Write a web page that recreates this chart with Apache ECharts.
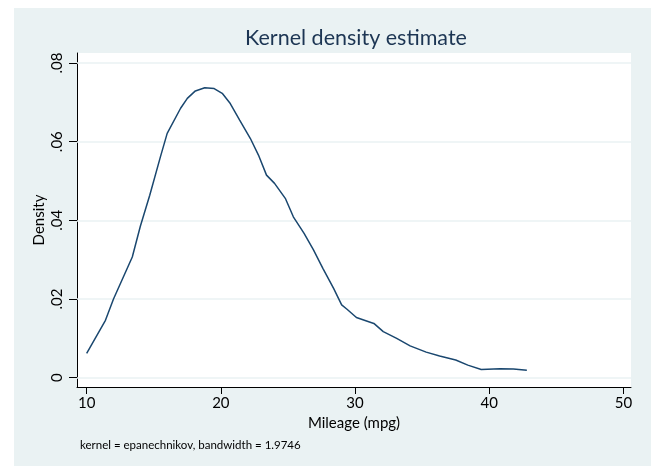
<!DOCTYPE html>
<html>
<head>
<meta charset="utf-8">
<title>Kernel density estimate</title>
<script src="https://cdn.jsdelivr.net/npm/echarts@6/dist/echarts.min.js"></script>
<style>
  html, body { margin: 0; padding: 0; background: #fff; }
  #chart { width: 651px; height: 466px; }
</style>
</head>
<body>
<div id="chart"></div>
<script>
// mileage (mpg) grid and density
const mileage = [10.0, 11.4, 12.0, 13.4, 14.0, 14.7, 15.5, 16.0, 17.0, 17.5, 18.1, 18.8, 19.5, 20.1, 20.7,
  21.4, 22.2, 22.8, 23.4, 24.0, 24.8, 25.4, 26.2, 26.9, 27.6, 28.4, 29.0, 29.4, 30.1, 30.8, 31.4,
  32.1, 33.1, 34.1, 35.3, 36.3, 37.5, 38.4, 39.4, 40.8, 41.8, 42.8];
const density = [0.0062, 0.0146, 0.0200, 0.0307, 0.0385, 0.0464, 0.0562, 0.0621, 0.0685, 0.0710, 0.0729,
  0.0737, 0.0735, 0.0723, 0.0697, 0.0655, 0.0608, 0.0566, 0.0515, 0.0494, 0.0456, 0.0409, 0.0367,
  0.0325, 0.0278, 0.0227, 0.0185, 0.0174, 0.0153, 0.0145, 0.0138, 0.0117, 0.0100, 0.0081, 0.0065,
  0.0055, 0.0045, 0.0032, 0.0021, 0.0023, 0.0022, 0.0019];
const xTicks = [10, 20, 30, 40, 50];
const yTicks = [0, 0.02, 0.04, 0.06, 0.08];

const FONT = 'Lato';
const NAVY = '#1a476f';
const BG = '#eaf2f3';

const chart = echarts.init(document.getElementById('chart'));

const fmtY = v => (v === 0 ? '0' : String(+v.toFixed(2)).replace(/^0\./, '.'));

chart.setOption({
  animation: false,
  backgroundColor: '#fff',
  textStyle: { fontFamily: FONT },
  graphic: [
    { type: 'rect', z: -10, shape: { x: 14, y: 8, width: 637, height: 458 }, style: { fill: BG } },
    {
      type: 'text', left: 80, top: 439, z: 10,
      style: { text: 'kernel = epanechnikov, bandwidth = 1.9746', fill: '#000', font: '11.5px ' + FONT }
    }
  ],
  title: {
    text: 'Kernel density estimate',
    left: 351, top: 22, textAlign: 'center',
    textStyle: { fontFamily: FONT, fontWeight: 'normal', fontSize: 21.5, color: '#1c3553' }
  },
  grid: {
    left: 77, right: 20, top: 53, bottom: 79,
    show: true, backgroundColor: '#fff', borderWidth: 0
  },
  xAxis: {
    type: 'value', min: 9.28, max: 50.56,
    name: 'Mileage (mpg)', nameLocation: 'middle', nameGap: 29,
    nameTextStyle: { fontSize: 15, color: '#000', fontFamily: FONT },
    axisLine: { show: true, onZero: false, lineStyle: { color: '#000', width: 1 } },
    axisTick: { show: true, customValues: xTicks, length: 7, lineStyle: { color: '#000' } },
    axisLabel: { customValues: xTicks, fontSize: 15, color: '#000', margin: 9, fontFamily: FONT },
    splitLine: { show: false }
  },
  yAxis: {
    type: 'value', min: -0.00236, max: 0.08254,
    name: 'Density', nameLocation: 'middle', nameGap: 30, nameRotate: 90, nameMoveOverlap: false,
    nameTextStyle: { fontSize: 15, color: '#000', fontFamily: FONT },
    axisLine: { show: true, onZero: false, lineStyle: { color: '#000', width: 1 } },
    axisTick: { show: true, customValues: yTicks, length: 8, lineStyle: { color: '#000' } },
    axisLabel: { customValues: yTicks, rotate: 90, fontSize: 15, color: '#000', margin: 12,
      fontFamily: FONT, formatter: fmtY },
    splitLine: { show: false }
  },
  series: [
    {
      type: 'line', data: [], z: 1, silent: true,
      markLine: {
        silent: true, symbol: 'none', label: { show: false },
        lineStyle: { color: BG, width: 1.5, type: 'solid' },
        data: yTicks.map(v => ({ yAxis: v }))
      }
    },
    {
      type: 'line', z: 5,
      data: mileage.map((m, i) => [m, density[i]]),
      showSymbol: false, smooth: false,
      lineStyle: { color: NAVY, width: 1.5 }
    }
  ]
});
</script>
</body>
</html>
